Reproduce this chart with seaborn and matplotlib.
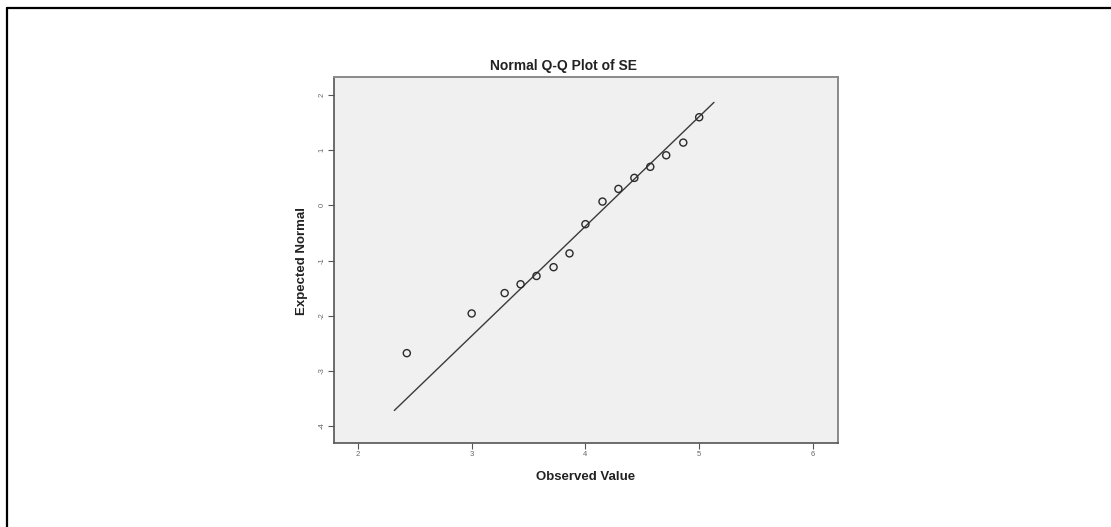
import matplotlib
matplotlib.use("Agg")
import matplotlib.pyplot as plt
from matplotlib.lines import Line2D
import seaborn as sns
import pandas as pd

# ---- data ----
observed = [2.43, 3.00, 3.29, 3.43, 3.57, 3.72, 3.86, 4.00, 4.15, 4.29, 4.43, 4.57, 4.71, 4.86, 5.00]
expected = [-2.68, -1.96, -1.59, -1.43, -1.28, -1.12, -0.87, -0.34, 0.07, 0.30, 0.50, 0.70, 0.91, 1.14, 1.60]
line_x = [2.32, 5.13]
line_y = [-3.72, 1.87]
x_ticks = [2, 3, 4, 5, 6]
y_ticks = [-4, -3, -2, -1, 0, 1, 2]
title = "Normal Q-Q Plot of SE"
x_label = "Observed Value"
y_label = "Expected Normal"

sns.set_theme(style="white")
plt.rcParams["font.family"] = ["Liberation Sans", "DejaVu Sans"]

W, H = 1111, 527
fig = plt.figure(figsize=(W / 100, H / 100), dpi=100)
ax = fig.add_axes([334 / W, 1 - 443 / H, (838 - 334) / W, (443 - 77) / H])
ax.set_facecolor("#f0f0f0")

df = pd.DataFrame({"obs": observed, "exp": expected})
sns.lineplot(x=line_x, y=line_y, ax=ax, color="#3a3a3a", linewidth=1.0, zorder=2)
sns.scatterplot(data=df, x="obs", y="exp", ax=ax, marker="o", s=26,
                facecolor="none", edgecolor="#2a2a2a", linewidth=1.0, zorder=3)

ax.set_xlim(1.79, 6.22)
ax.set_ylim(-4.31, 2.33)
ax.set_xticks(x_ticks)
ax.set_xticklabels([str(v) for v in x_ticks], fontsize=5.5, color="#666666")
ax.set_yticks(y_ticks)
ax.set_yticklabels([str(v) for v in y_ticks], fontsize=5.5, color="#666666", rotation=90, va="center")
ax.tick_params(axis="both", which="both", direction="out", length=4, width=0.8,
               color="#555555", pad=2, bottom=True, left=True)

for side in ["left", "bottom"]:
    ax.spines[side].set_color("#555555")
    ax.spines[side].set_linewidth(1.2)
for side in ["top", "right"]:
    ax.spines[side].set_color("#8a8a8a")
    ax.spines[side].set_linewidth(1.4)

ax.set_xlabel("")
ax.set_ylabel("")
fig.text(564 / W, 1 - 66 / H, title, fontsize=10, fontweight="bold", color="#222222",
         ha="center", va="center")
fig.text(586 / W, 1 - 477 / H, x_label, fontsize=9.5, fontweight="bold", color="#222222",
         ha="center", va="center")
fig.text(302 / W, 1 - 261 / H, y_label, fontsize=9.5, fontweight="bold", color="#222222",
         ha="center", va="center", rotation=90)

# outer frame (top and left edges only visible in the reference)
fig.add_artist(Line2D([7 / W, 1.0], [1 - 8 / H, 1 - 8 / H], transform=fig.transFigure,
                      color="black", linewidth=1.6))
fig.add_artist(Line2D([7 / W, 7 / W], [0.0, 1 - 8 / H], transform=fig.transFigure,
                      color="black", linewidth=1.6))

fig.savefig("out.png", dpi=100, facecolor="white")
